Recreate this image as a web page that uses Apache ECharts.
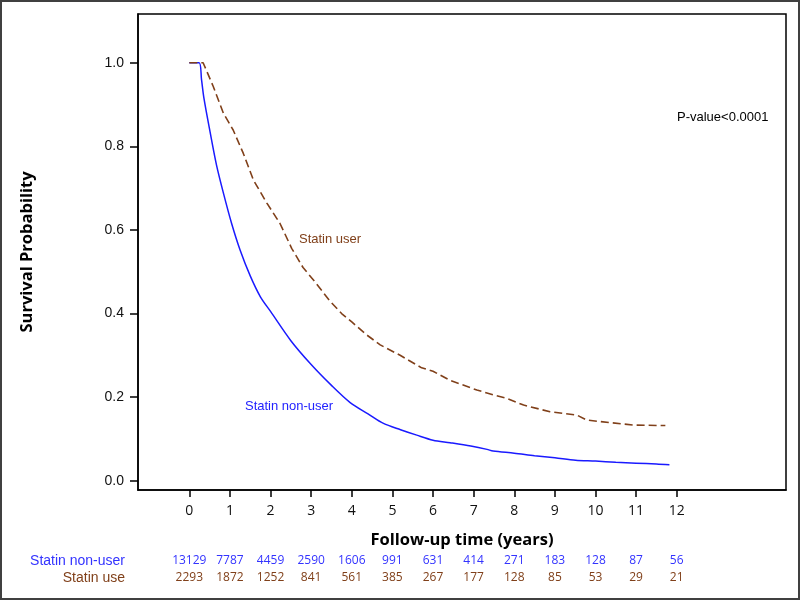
<!DOCTYPE html>
<html>
<head>
<meta charset="utf-8">
<script src="https://cdn.jsdelivr.net/npm/echarts@6/dist/echarts.min.js"></script>
<style>html,body{margin:0;padding:0;background:#fff}#c{width:800px;height:600px}</style>
</head>
<body>
<div id="c"></div>
<script>
// ---- data ----
var tickYears = [0,1,2,3,4,5,6,7,8,9,10,11,12];
var yTicks = [0,0.2,0.4,0.6,0.8,1.0];
var atRiskNonUser = [13129,7787,4459,2590,1606,991,631,414,271,183,128,87,56];
var atRiskUser = [2293,1872,1252,841,561,385,267,177,128,85,53,29,21];
var nonUserTime = [0,0.24,0.30,0.36,0.51,0.67,0.84,1.04,1.25,1.5,1.75,2.0,2.5,3.0,3.5,3.96,4.4,4.78,5.2,5.6,6.0,6.42,6.93,7.33,7.48,8.0,8.5,9.0,9.51,10.0,10.5,11.0,11.5,11.82];
var nonUserSurv = [1.0,1.0,0.96,0.915,0.835,0.755,0.688,0.616,0.552,0.49,0.44,0.405,0.335,0.278,0.228,0.187,0.16,0.137,0.122,0.109,0.097,0.091,0.083,0.075,0.071,0.066,0.060,0.055,0.049,0.047,0.044,0.042,0.040,0.038];
var userTime = [0,0.34,0.45,0.59,0.84,1.08,1.33,1.58,1.91,2.23,2.52,2.8,3.1,3.46,3.75,4.0,4.35,4.7,5.19,5.72,6.0,6.42,7.08,7.5,7.82,8.23,8.88,9.54,9.79,10.36,10.94,11.72];
var userSurv = [1.0,1.0,0.975,0.943,0.879,0.839,0.783,0.719,0.664,0.616,0.556,0.51,0.475,0.43,0.40,0.38,0.35,0.325,0.30,0.27,0.262,0.24,0.217,0.205,0.197,0.181,0.165,0.157,0.145,0.139,0.133,0.132];
var seriesNames = ['Statin non-user','Statin user'];
var riskRowLabels = ['Statin non-user','Statin use'];

var BLUE = '#1a1aff', BROWN = '#80401a';
function pairs(a,b){return a.map(function(v,i){return [v,b[i]];});}

var xMin = -1.263, xMax = 14.69, yMin = -0.0222, yMax = 1.1165;
function riskAxis(arr, color, offset){
  return {type:'value', gridIndex:0, position:'bottom', offset:offset, min:xMin, max:xMax,
    axisLine:{show:false}, axisTick:{show:false}, splitLine:{show:false},
    axisLabel:{customValues:tickYears, margin:0, color:color, fontFamily:'Open Sans', fontSize:12, lineHeight:12,
      formatter:function(v){var i=tickYears.indexOf(Math.round(v)); return i>=0?String(arr[i]):'';}}};
}

var chart = echarts.init(document.getElementById('c'));
chart.setOption({
  animation:false,
  backgroundColor:'#fff',
  grid:{left:138,right:14,top:14,bottom:110,show:true,borderColor:'#000',borderWidth:1.5,backgroundColor:'transparent'},
  xAxis:[
    {type:'value', min:xMin, max:xMax, position:'bottom',
     axisLine:{show:true,onZero:false,lineStyle:{color:'#000',width:1.5}},
     axisTick:{show:true,customValues:tickYears,length:7,lineStyle:{color:'#000',width:1.5}},
     axisLabel:{customValues:tickYears,margin:14,color:'#111',fontFamily:'Open Sans',fontSize:14,lineHeight:14},
     splitLine:{show:false}},
    riskAxis(atRiskNonUser, '#3333ff', 65),
    riskAxis(atRiskUser, BROWN, 82)
  ],
  yAxis:{type:'value', min:yMin, max:yMax,
     axisLine:{show:true,onZero:false,lineStyle:{color:'#000',width:1.5}},
     axisTick:{show:true,customValues:yTicks,length:8,lineStyle:{color:'#000',width:1.5}},
     axisLabel:{customValues:yTicks,margin:14,color:'#111',fontFamily:'Liberation Sans',fontSize:14,
       formatter:function(v){return v.toFixed(1);}},
     splitLine:{show:false}},
  series:[
    {name:seriesNames[0], type:'line', data:pairs(nonUserTime,nonUserSurv), showSymbol:false, symbol:'none', smooth:0.3,
     lineStyle:{color:BLUE,width:1.5}, z:2},
    {name:seriesNames[1], type:'line', data:pairs(userTime,userSurv), showSymbol:false, symbol:'none',
     lineStyle:{color:BROWN,width:1.6,type:[8,4]}, z:3}
  ],
  graphic:[
    {type:'rect', shape:{x:1,y:1,width:798,height:598}, style:{fill:'none',stroke:'#404040',lineWidth:2}, silent:true},
    {type:'text', x:27, y:252, rotation:Math.PI/2, style:{text:'Survival Probability', font:'bold 16.5px "Open Sans"', fill:'#000', align:'center', verticalAlign:'middle'}},
    {type:'text', x:462, y:540, style:{text:'Follow-up time (years)', font:'bold 16.5px "Open Sans"', fill:'#000', align:'center', verticalAlign:'middle'}},
    {type:'text', x:125, y:561, style:{text:riskRowLabels[0], font:'14px "Liberation Sans"', fill:'#3333ff', align:'right', verticalAlign:'middle'}},
    {type:'text', x:125, y:578, style:{text:riskRowLabels[1], font:'14px "Liberation Sans"', fill:BROWN, align:'right', verticalAlign:'middle'}},
    {type:'text', x:299, y:239, style:{text:seriesNames[1], font:'13px "Liberation Sans"', fill:BROWN, align:'left', verticalAlign:'middle'}},
    {type:'text', x:245, y:406, style:{text:seriesNames[0], font:'13px "Liberation Sans"', fill:'#2222ff', align:'left', verticalAlign:'middle'}},
    {type:'text', x:677, y:117, style:{text:'P-value<0.0001', font:'13px "Liberation Sans"', fill:'#000', align:'left', verticalAlign:'middle'}}
  ]
});
</script>
</body>
</html>
